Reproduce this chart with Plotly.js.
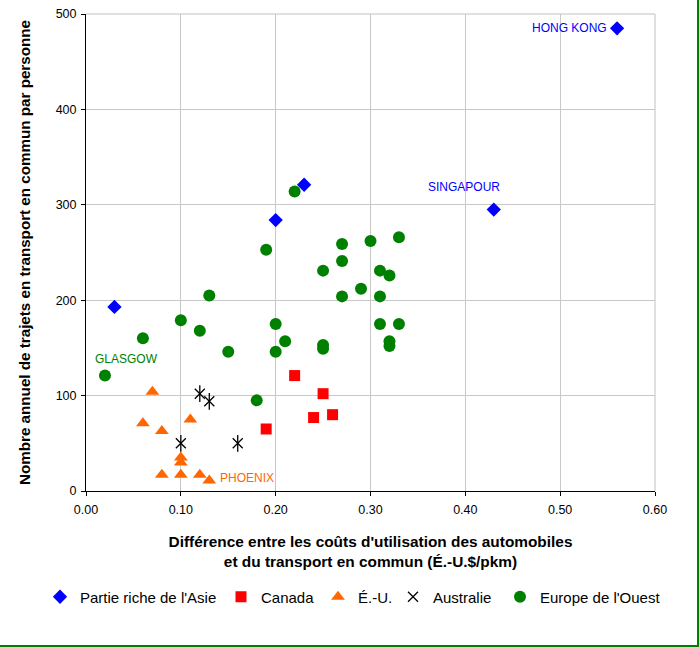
<!DOCTYPE html>
<html>
<head>
<meta charset="utf-8">
<script src="https://cdn.plot.ly/plotly-3.0.1.min.js"></script>
<style>
  html, body { margin: 0; padding: 0; background: #fff; }
  #wrap { position: relative; width: 699px; height: 647px; }
  #chart { width: 699px; height: 647px; }
  #frame { position: absolute; left: 0; top: 0; width: 697px; height: 645px;
           border-right: 2px solid #008000; border-bottom: 2px solid #008000; pointer-events: none; }
</style>
</head>
<body>
<div id="wrap"><div id="chart"></div><div id="frame"></div></div>
<script>
// ---- data ----
const seriesNames = ["Partie riche de l'Asie", "Canada", "É.-U.", "Australie", "Europe de l'Ouest"];

const asiaX = [0.03, 0.20, 0.23, 0.43, 0.56];
const asiaY = [193, 284, 321, 295, 485];

const canadaX = [0.19, 0.22, 0.24, 0.25, 0.26];
const canadaY = [65, 121, 77, 102, 80];

const usX = [0.06, 0.07, 0.08, 0.08, 0.10, 0.10, 0.10, 0.11, 0.12, 0.13];
const usY = [71, 104, 63, 17, 35, 30, 17, 75, 17, 11];

const ausX = [0.10, 0.12, 0.13, 0.16];
const ausY = [50, 102, 94, 50];

const euroX = [0.02, 0.06, 0.10, 0.12, 0.13, 0.15, 0.18, 0.19, 0.20, 0.20, 0.21, 0.22, 0.25, 0.25, 0.25,
               0.27, 0.27, 0.27, 0.29, 0.30, 0.31, 0.31, 0.31, 0.32, 0.32, 0.32, 0.33, 0.33];
const euroY = [121, 160, 179, 168, 205, 146, 95, 253, 175, 146, 157, 314, 231, 153, 149,
               259, 241, 204, 212, 262, 231, 204, 175, 226, 157, 152, 266, 175];

const xTicks = [0, 0.1, 0.2, 0.3, 0.4, 0.5, 0.6];
const xTickLabels = ["0.00", "0.10", "0.20", "0.30", "0.40", "0.50", "0.60"];
const yTicks = [0, 100, 200, 300, 400, 500];

// labelled cities: series arrays + index of the point
const labels = [
  {xs: asiaX, ys: asiaY, i: 4, text: "HONG KONG", color: "#0000FF", xanchor: "right", xshift: -8, yshift: 0},
  {xs: asiaX, ys: asiaY, i: 3, text: "SINGAPOUR", color: "#0000FF", xanchor: "center", xshift: -30, yshift: 23},
  {xs: euroX, ys: euroY, i: 0, text: "GLASGOW", color: "#008000", xanchor: "left", xshift: -12, yshift: 17},
  {xs: usX, ys: usY, i: 9, text: "PHOENIX", color: "#FF6600", xanchor: "left", xshift: 9, yshift: 3}
];

const FONT = "Liberation Sans, Arial, sans-serif";

const traces = [
  {x: asiaX, y: asiaY, name: seriesNames[0], type: "scatter", mode: "markers", legend: "legend",
   marker: {symbol: "diamond", size: 11, color: "#0000FF"}},
  {x: canadaX, y: canadaY, name: seriesNames[1], type: "scatter", mode: "markers", legend: "legend2",
   marker: {symbol: "square", size: 11, color: "#FF0000"}},
  {x: usX, y: usY, name: seriesNames[2], type: "scatter", mode: "markers", legend: "legend3",
   marker: {symbol: "triangle-up", size: 12, color: "#FF6600"}},
  {x: ausX, y: ausY, name: seriesNames[3], type: "scatter", mode: "markers", legend: "legend4", legendgroup: "aus",
   marker: {symbol: "x-thin-open", size: 10, color: "#000000", line: {width: 1.3, color: "#000000"}}},
  {x: ausX, y: ausY, name: seriesNames[3], type: "scatter", mode: "markers", legend: "legend4", legendgroup: "aus", showlegend: false,
   marker: {symbol: "line-ns-open", size: 12, color: "#000000", line: {width: 1.3, color: "#000000"}}},
  {x: euroX, y: euroY, name: seriesNames[4], type: "scatter", mode: "markers", legend: "legend5",
   marker: {symbol: "circle", size: 12, color: "#008000"}}
];

const annotations = labels.map(l => ({
  x: l.xs[l.i], y: l.ys[l.i], xref: "x", yref: "y", text: l.text, showarrow: false,
  xanchor: l.xanchor, yanchor: "middle", xshift: l.xshift, yshift: l.yshift,
  font: {family: FONT, size: 12, color: l.color}
}));

function legendAt(leftPx) {
  return {orientation: "h", xref: "container", yref: "container",
          x: leftPx / 699, xanchor: "left", y: 1 - 597 / 647, yanchor: "middle",
          font: {family: FONT, size: 15, color: "#000"}, itemwidth: 30,
          bgcolor: "rgba(0,0,0,0)"};
}

const layout = {
  width: 699, height: 647,
  margin: {l: 86, r: 44, t: 14, b: 156},
  paper_bgcolor: "#ffffff", plot_bgcolor: "#ffffff",
  font: {family: FONT, size: 12.5, color: "#000"},
  showlegend: true,
  legend: legendAt(40),
  legend2: legendAt(221),
  legend3: legendAt(318),
  legend4: legendAt(393),
  legend5: legendAt(500),
  xaxis: {
    range: [0, 0.6], tickvals: xTicks, ticktext: xTickLabels,
    showgrid: true, gridcolor: "#c8c8c8", gridwidth: 1,
    zeroline: false, showline: true, linecolor: "#000", linewidth: 1,
    ticks: "outside", ticklen: 4, tickcolor: "#000", ticklabelstandoff: 3,
    tickfont: {family: FONT, size: 12.5, color: "#000"},
    title: {text: "Différence entre les coûts d'utilisation des automobiles<br>et du transport en commun (É.-U.$/pkm)",
            font: {family: FONT, size: 15.4, color: "#000", weight: "bold"}, standoff: 20},
    fixedrange: true
  },
  yaxis: {
    range: [0, 500], tickvals: yTicks,
    showgrid: true, gridcolor: "#c8c8c8", gridwidth: 1,
    zeroline: false, showline: true, linecolor: "#000", linewidth: 1,
    ticks: "outside", ticklen: 4, tickcolor: "#000", ticklabelstandoff: 2,
    tickfont: {family: FONT, size: 12.5, color: "#000"},
    title: {text: "Nombre annuel de trajets en transport en commun par personne",
            font: {family: FONT, size: 15.2, color: "#000", weight: "bold"}, standoff: 21},
    fixedrange: true
  },
  shapes: [
    {type: "line", xref: "paper", yref: "paper", x0: 0, x1: 1, y0: 1, y1: 1, line: {color: "#c0c0c0", width: 1}, layer: "below"},
    {type: "line", xref: "paper", yref: "paper", x0: 1, x1: 1, y0: 0, y1: 1, line: {color: "#c0c0c0", width: 1}, layer: "below"}
  ],
  annotations: annotations
};

Plotly.newPlot("chart", traces, layout, {displayModeBar: false, staticPlot: true});
</script>
</body>
</html>
